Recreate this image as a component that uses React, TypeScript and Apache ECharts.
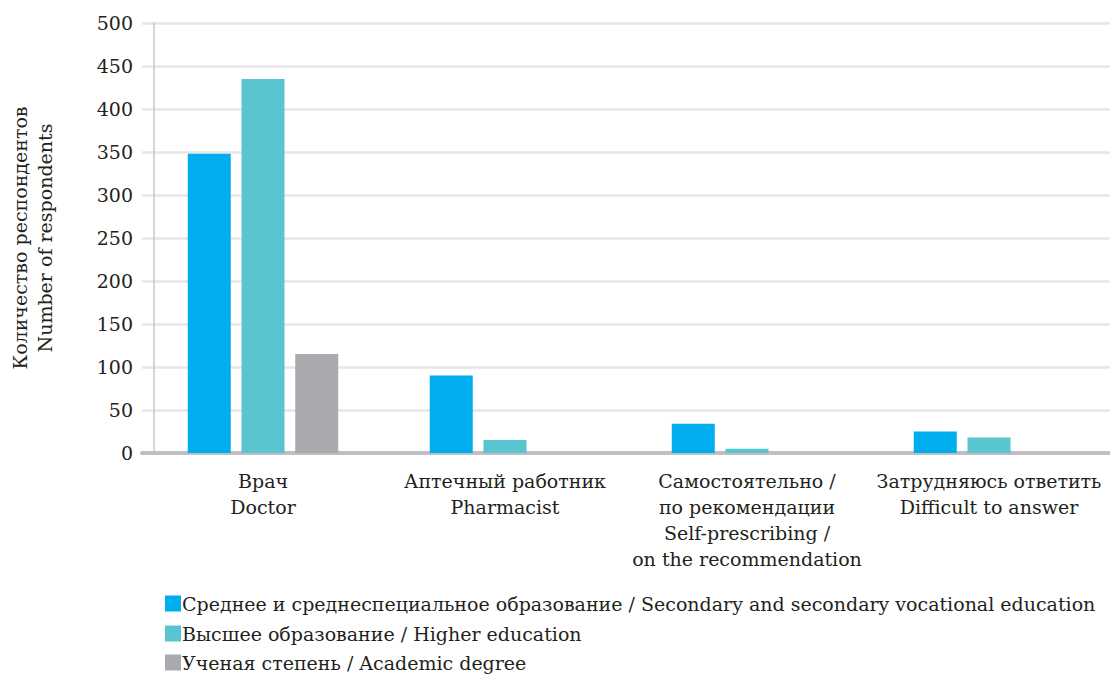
import React, { useEffect, useRef } from "react";
import * as echarts from "echarts";

const categories = [
  "Врач\nDoctor",
  "Аптечный работник\nPharmacist",
  "Самостоятельно /\nпо рекомендации\nSelf-prescribing /\non the recommendation",
  "Затрудняюсь ответить\nDifficult to answer",
];
const seriesNames = [
  "Среднее и среднеспециальное образование / Secondary and secondary vocational education",
  "Высшее образование / Higher education",
  "Ученая степень / Academic degree",
];
const secondary = [348, 90, 34, 25];
const higher = [435, 15, 5, 18];
const academic = [115, 0, 0, 0];
const colors = ["#00AEEF", "#58C5D0", "#A9AAAE"];
const legendTops = [589, 619, 648];

const FONT = "DejaVu Serif";
const TEXT = "#231F20";

export default function App() {
  const ref = useRef<HTMLDivElement>(null);
  useEffect(() => {
    document.body.style.margin = "0";
    const chart = echarts.init(ref.current!, null, { renderer: "svg" });
    const data = [secondary, higher, academic];
    chart.setOption({
      animation: false,
      textStyle: { fontFamily: FONT, color: TEXT },
      grid: { left: 142, right: 0, top: 23, bottom: 222, outerBoundsMode: "none", containLabel: false },
      legend: seriesNames.map((name, i) => ({
        orient: "horizontal",
        left: 160,
        top: legendTops[i],
        itemWidth: 16,
        itemHeight: 16,
        icon: "rect",
        textStyle: { fontFamily: FONT, fontSize: 19, color: TEXT, padding: [0, 0, 0, -4] },
        data: [name],
      })),
      xAxis: {
        type: "category",
        data: categories,
        axisLine: { lineStyle: { color: "#BEBEC4", width: 4 } },
        axisTick: { show: false },
        axisLabel: {
          fontFamily: FONT,
          fontSize: 19,
          color: TEXT,
          margin: 15,
          lineHeight: 26,
          interval: 0,
        },
      },
      yAxis: [
        {
          type: "value",
          min: 0,
          max: 500,
          interval: 50,
          name: "Количество респондентов\nNumber of respondents",
          nameLocation: "middle",
          nameRotate: 90,
          nameGap: 85,
          nameTextStyle: { fontFamily: FONT, fontSize: 19, color: TEXT, lineHeight: 25 },
          axisLine: { show: false },
          axisTick: { show: false },
          axisLabel: { fontFamily: FONT, fontSize: 19, color: TEXT, margin: 9 },
          splitLine: { lineStyle: { color: "#E6E6E8", width: 2.5 } },
        },
        {
          type: "value",
          min: 0,
          max: 500,
          position: "left",
          offset: -12,
          axisLine: { show: true, lineStyle: { color: "#C8C8CC", width: 1.5 } },
          axisTick: { show: false },
          axisLabel: { show: false },
          splitLine: { show: false },
        },
      ],
      series: seriesNames.map((name, i) => ({
        name,
        type: "bar",
        data: data[i],
        barWidth: 43,
        barGap: "25%",
        itemStyle: { color: colors[i] },
      })),
    });
    return () => chart.dispose();
  }, []);
  return <div ref={ref} style={{ width: 1110, height: 675 }} />;
}
